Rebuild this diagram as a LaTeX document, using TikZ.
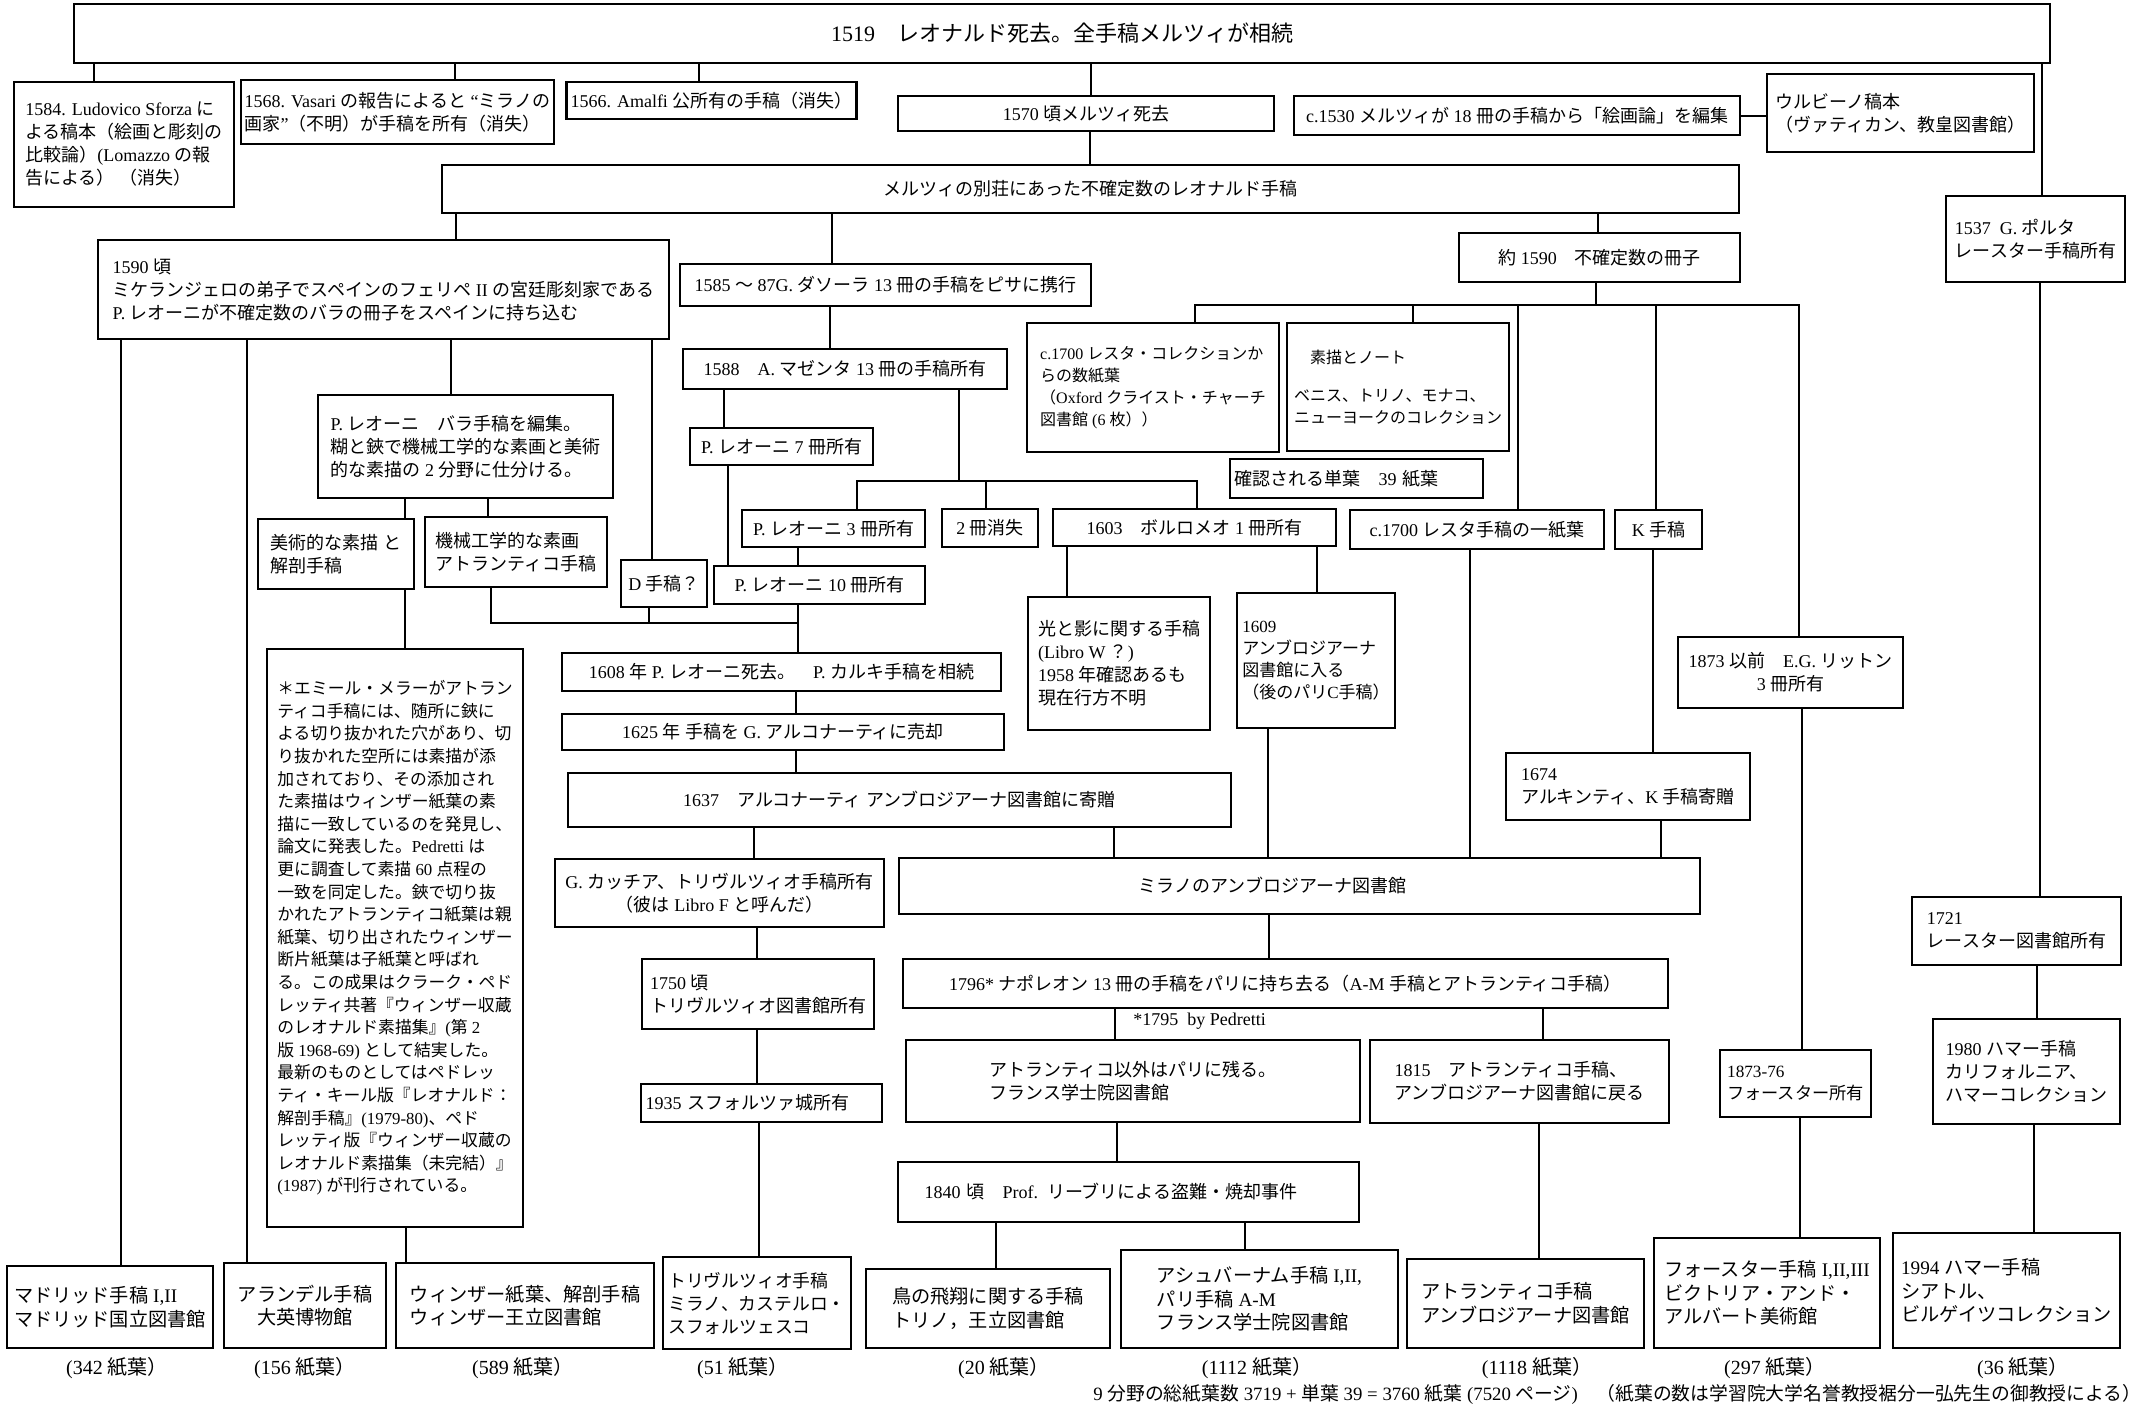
\documentclass[tikz,border=0pt]{standalone}
\usepackage{fontspec}
\setmainfont{Liberation Serif}
\newfontfamily\jpfont{Noto Sans CJK JP}
\XeTeXinterchartokenstate=1
\newXeTeXintercharclass\jpclass
\newcount\jpcode
\jpcode="3000
\loop\ifnum\jpcode<"A000
  \XeTeXcharclass\jpcode=\jpclass
  \advance\jpcode by 1
\repeat
\jpcode="FF00
\loop\ifnum\jpcode<"FFF0
  \XeTeXcharclass\jpcode=\jpclass
  \advance\jpcode by 1
\repeat
\XeTeXinterchartoks 0 \jpclass = {\jpfont}
\XeTeXinterchartoks 4095 \jpclass = {\jpfont}
\XeTeXinterchartoks \jpclass 0 = {\rmfamily}
\XeTeXinterchartoks \jpclass 4095 = {\rmfamily}
\usepackage{tikz}

\tikzset{
  docnode/.style={draw, line width=1.2pt, inner xsep=2pt, inner ysep=1pt,
    align=left, font=\fontsize{9}{11.5}\selectfont},
  titletext/.style={font=\fontsize{11}{13}\selectfont},
  bottomrow/.style={font=\fontsize{9.6}{11.8}\selectfont},
  smalltext/.style={font=\fontsize{8}{11}\selectfont},
  conn/.style={line width=1pt},
  leafcount/.style={font=\fontsize{10}{12}\selectfont, inner sep=0pt},
  remark/.style={font=\fontsize{9}{11}\selectfont, inner sep=0pt}
}

\newcommand{\docbox}[7][]{%
  \pgfmathsetmacro\boxw{(#5-#3)/2}%
  \pgfmathsetmacro\boxh{(#6-#4)/2}%
  \node[docnode, minimum width=\boxw pt, minimum height=\boxh pt, #1]
    (#2) at ({(#3+#5)/2},{(#4+#6)/2}) {#7};}
\newcommand{\vlink}[3]{\draw[conn] (#2.south -| #1,0) -- (#3.north -| #1,0);}

\begin{document}
\begin{tikzpicture}[x=0.5pt,y=-0.5pt]
\useasboundingbox (0,0) rectangle (2147,1405);

\docbox[align=center,titletext]{title}{74}{4}{2050}{63}{1519\quad レオナルド死去。全手稿メルツィが相続}
\docbox{bA}{14}{82}{234}{207}{1584. Ludovico Sforza に\\よる稿本（絵画と彫刻の\\比較論）(Lomazzo の報\\告による）\ （消失）}
\docbox{bB}{242}{80}{553}{144}{1568. Vasari の報告によると “ミラノの\\画家”（不明）が手稿を所有（消失）}
\docbox{bC}{568}{82}{855}{119}{1566. Amalfi 公所有の手稿（消失）}
\docbox[align=center]{m1570}{898}{96}{1274}{131}{1570 頃メルツィ死去}
\docbox{c1530}{1294}{96}{1740}{135}{c.1530 メルツィが 18 冊の手稿から「絵画論」を編集}
\docbox{urbino}{1767}{74}{2034}{152}{ウルビーノ稿本\\（ヴァティカン、教皇図書館）}
\docbox[align=center]{villa}{442}{165}{1739}{213}{メルツィの別荘にあった不確定数のレオナルド手稿}
\docbox{porta}{1946}{196}{2125}{282}{1537\ \ G. ポルタ\\レースター手稿所有}
\docbox{leoni}{98}{240}{669}{339}{1590 頃\\ミケランジェロの弟子でスペインのフェリペ II の宮廷彫刻家である\\P. レオーニが不確定数のバラの冊子をスペインに持ち込む}
\docbox{dasola}{680}{264}{1091}{306}{1585 ～ 87G. ダソーラ 13 冊の手稿をピサに携行}
\docbox[align=center]{about}{1459}{233}{1740}{282}{約 1590\quad 不確定数の冊子}
\docbox[align=center]{mazenta}{683}{349}{1007}{389}{1588\quad A. マゼンタ 13 冊の手稿所有}
\docbox[smalltext]{oxford}{1027}{323}{1279}{452}{c.1700 レスタ・コレクションか\\らの数紙葉\\（Oxford クライスト・チャーチ\\図書館 (6 枚））}
\docbox[smalltext]{sketch}{1287}{323}{1509}{451}{\hspace*{1em}素描とノート\\[1em]ベニス、トリノ、モナコ、\\ニューヨークのコレクション}
\docbox[align=center]{pl7}{690}{428}{873}{465}{P. レオーニ 7 冊所有}
\docbox{edit}{318}{395}{613}{498}{P. レオーニ\quad バラ手稿を編集。\\糊と鋏で機械工学的な素画と美術\\的な素描の 2 分野に仕分ける。}
\docbox[text width=122pt]{confirm}{1230}{459}{1483}{498}{確認される単葉\quad 39 紙葉}
\docbox[align=center]{pl3}{742}{510}{925}{547}{P. レオーニ 3 冊所有}
\docbox[align=center]{lost2}{942}{509}{1038}{547}{2 冊消失}
\docbox[align=center]{borromeo}{1053}{509}{1336}{546}{1603\quad ボルロメオ 1 冊所有}
\docbox{restaleaf}{1350}{510}{1604}{549}{c.1700 レスタ手稿の一紙葉}
\docbox[align=center]{kms}{1615}{510}{1702}{549}{K 手稿}
\docbox{art}{258}{519}{414}{589}{美術的な素描 と\\解剖手稿}
\docbox{mech}{425}{517}{607}{587}{機械工学的な素画\\アトランティコ手稿}
\docbox[align=center]{dms}{621}{560}{707}{607}{D 手稿？}
\docbox[align=center]{pl10}{714}{566}{925}{604}{P. レオーニ 10 冊所有}
\docbox{light}{1028}{597}{1210}{730}{光と影に関する手稿\\(Libro W ？)\\1958 年確認あるも\\現在行方不明}
\docbox[font=\fontsize{8.5}{11}\selectfont]{c1609}{1237}{593}{1395}{728}{1609\\アンブロジアーナ\\図書館に入る\\（後のパリC手稿）}
\docbox[align=center]{calchi}{562}{653}{1001}{691}{1608 年 P. レオーニ死去。\quad P. カルキ手稿を相続}
\docbox[align=center]{sold}{562}{714}{1004}{750}{1625 年 手稿を G. アルコナーティに売却}
\docbox[align=center]{lytton}{1678}{637}{1903}{708}{1873 以前\quad E.G. リットン\\3 冊所有}
\docbox[align=center]{donate}{568}{773}{1231}{827}{1637\quad アルコナーティ アンブロジアーナ図書館に寄贈}
\docbox{arch}{1506}{753}{1750}{820}{1674\\アルキンティ、K 手稿寄贈}
\docbox[align=center]{caccia}{555}{859}{884}{927}{G. カッチア、トリヴルツィオ手稿所有\\（彼は Libro F と呼んだ）}
\docbox[align=center]{milan}{899}{858}{1700}{914}{ミラノのアンブロジアーナ図書館\hspace*{3em}}
\docbox{leic}{1912}{897}{2121}{965}{1721\\レースター図書館所有}
\docbox{trivlib}{642}{959}{874}{1029}{1750 頃\\トリヴルツィオ図書館所有}
\docbox[align=center]{napoleon}{903}{959}{1668}{1008}{1796* ナポレオン 13 冊の手稿をパリに持ち去る（A-M 手稿とアトランティコ手稿）}
\docbox{paris}{906}{1040}{1360}{1122}{アトランティコ以外はパリに残る。\\フランス学士院図書館}
\docbox{back}{1370}{1040}{1669}{1123}{1815\quad アトランティコ手稿、\\アンブロジアーナ図書館に戻る}
\docbox[font=\fontsize{8.6}{11}\selectfont]{forster1}{1720}{1050}{1871}{1117}{1873-76\\フォースター所有}
\docbox{hammer}{1933}{1019}{2120}{1124}{1980 ハマー手稿\\カリフォルニア、\\ハマーコレクション}
\docbox[text width=116pt]{castle}{641}{1084}{882}{1122}{1935 スフォルツァ城所有}
\docbox[text width=220pt]{libri}{898}{1162}{1359}{1222}{\hspace*{8pt}1840 頃\quad Prof. リーブリによる盗難・焼却事件}
\docbox[font=\fontsize{8.4}{11.3}\selectfont]{note}{267}{649}{523}{1227}{＊エミール・メラーがアトラン\\ティコ手稿には、随所に鋏に\\よる切り抜かれた穴があり、切\\り抜かれた空所には素描が添\\加されており、その添加され\\た素描はウィンザー紙葉の素\\描に一致しているのを発見し、\\論文に発表した。Pedretti は\\更に調査して素描 60 点程の\\一致を同定した。鋏で切り抜\\かれたアトランティコ紙葉は親\\紙葉、切り出されたウィンザー\\断片紙葉は子紙葉と呼ばれ\\る。この成果はクラーク・ペド\\レッティ共著『ウィンザー収蔵\\のレオナルド素描集』(第 2\\版 1968-69) として結実した。\\最新のものとしてはペドレッ\\ティ・キール版『レオナルド：\\解剖手稿』(1979-80)、ペド\\レッティ版『ウィンザー収蔵の\\レオナルド素描集（未完結）』\\(1987) が刊行されている。}
\docbox[bottomrow]{madrid}{7}{1266}{213}{1348}{マドリッド手稿 I,II\\マドリッド国立図書館}
\docbox[bottomrow,align=center]{arundel}{224}{1263}{386}{1348}{アランデル手稿\\大英博物館}
\docbox[bottomrow]{windsor}{396}{1263}{654}{1348}{ウィンザー紙葉、解剖手稿\\ウィンザー王立図書館}
\docbox[font=\fontsize{8.9}{11.5}\selectfont]{trivulzio}{663}{1257}{851}{1349}{トリヴルツィオ手稿\\ミラノ、カステルロ・\\スフォルツェスコ}
\docbox[bottomrow]{bird}{866}{1269}{1110}{1348}{鳥の飛翔に関する手稿\\トリノ，王立図書館}
\docbox[bottomrow]{ashb}{1121}{1250}{1398}{1348}{アシュバーナム手稿 I,II,\\パリ手稿 A-M\\フランス学士院図書館}
\docbox[bottomrow]{atl}{1407}{1259}{1644}{1348}{アトランティコ手稿\\アンブロジアーナ図書館}
\docbox[bottomrow]{forster}{1654}{1238}{1880}{1348}{フォースター手稿 I,II,III\\ビクトリア・アンド・\\アルバート美術館}
\docbox[bottomrow]{gates}{1893}{1233}{2120}{1348}{1994 ハマー手稿\\シアトル、\\ビルゲイツコレクション}

\node[remark, anchor=west] (pedretti) at (1133,1021) {*1795\ \ by Pedretti};
\node[leafcount] (n342) at (117,1368) {(342 紙葉）};
\node[leafcount] (n156) at (305,1368) {(156 紙葉）};
\node[leafcount] (n589) at (523,1368) {(589 紙葉）};
\node[leafcount] (n51) at (743,1368) {(51 紙葉）};
\node[leafcount] (n20) at (1004,1368) {(20 紙葉）};
\node[leafcount] (n1112) at (1257,1368) {(1112 紙葉）};
\node[leafcount] (n1118) at (1537,1368) {(1118 紙葉）};
\node[leafcount] (n297) at (1775,1368) {(297 紙葉）};
\node[leafcount] (n36) at (2023,1368) {(36 紙葉）};
\node[remark, anchor=west, font=\fontsize{9.4}{11}\selectfont] (total) at (1093,1394) {9 分野の総紙葉数 3719 + 単葉 39 = 3760 紙葉 (7520 ページ)\quad（紙葉の数は学習院大学名誉教授裾分一弘先生の御教授による）};

\vlink{94}{title}{bA}
\vlink{455}{title}{bB}
\vlink{699}{title}{bC}
\vlink{1091}{title}{m1570}
\vlink{2042}{title}{porta}
\draw[conn] (c1530.east) -- (c1530.east -| urbino.west);
\vlink{1090}{m1570}{villa}
\vlink{456}{villa}{leoni}
\vlink{832}{villa}{dasola}
\vlink{1598}{villa}{about}
\vlink{121}{leoni}{madrid}
\vlink{247}{leoni}{arundel}
\vlink{451}{leoni}{edit}
\vlink{652}{leoni}{dms}
\vlink{830}{dasola}{mazenta}
\vlink{724}{mazenta}{pl7}
\coordinate (j1) at (959,481);
\draw[conn] (mazenta.south -| j1) -- (j1);
\draw[conn] (pl3.north -| 857,0) |- (j1) -| (borromeo.north -| 1197,0);
\draw[conn] (j1 -| 986,0) -- (lost2.north -| 986,0);
\vlink{728}{pl7}{pl10}
\vlink{798}{pl3}{pl10}
\vlink{405}{edit}{art}
\vlink{488}{edit}{mech}
\coordinate (j2) at (798,623);
\draw[conn] (mech.south -| 491,0) |- (j2);
\draw[conn] (dms.south -| 649,0) -- (j2 -| 649,0);
\vlink{798}{pl10}{calchi}
\vlink{796}{calchi}{sold}
\vlink{796}{sold}{donate}
\vlink{754}{donate}{caccia}
\vlink{1114}{donate}{milan}
\vlink{757}{caccia}{trivlib}
\vlink{757}{trivlib}{castle}
\vlink{759}{castle}{trivulzio}
\vlink{405}{art}{note}
\vlink{406}{note}{windsor}
\coordinate (j3) at (1596,305);
\draw[conn] (about.south -| j3) -- (j3);
\draw[conn] (oxford.north -| 1195,0) |- (j3) -| (lytton.north -| 1799,0);
\draw[conn] (j3 -| 1413,0) -- (sketch.north -| 1413,0);
\draw[conn] (j3 -| 1518,0) -- (restaleaf.north -| 1518,0);
\draw[conn] (j3 -| 1656,0) -- (kms.north -| 1656,0);
\vlink{1067}{borromeo}{light}
\vlink{1317}{borromeo}{c1609}
\vlink{1268}{c1609}{milan}
\vlink{1470}{restaleaf}{milan}
\vlink{1653}{kms}{arch}
\vlink{1661}{arch}{milan}
\vlink{1802}{lytton}{forster1}
\vlink{1800}{forster1}{forster}
\vlink{2040}{porta}{leic}
\vlink{2037}{leic}{hammer}
\vlink{2034}{hammer}{gates}
\vlink{1269}{milan}{napoleon}
\vlink{1115}{napoleon}{paris}
\vlink{1543}{napoleon}{back}
\vlink{1117}{paris}{libri}
\vlink{996}{libri}{bird}
\vlink{1245}{libri}{ashb}
\vlink{1539}{back}{atl}
\end{tikzpicture}
\end{document}
